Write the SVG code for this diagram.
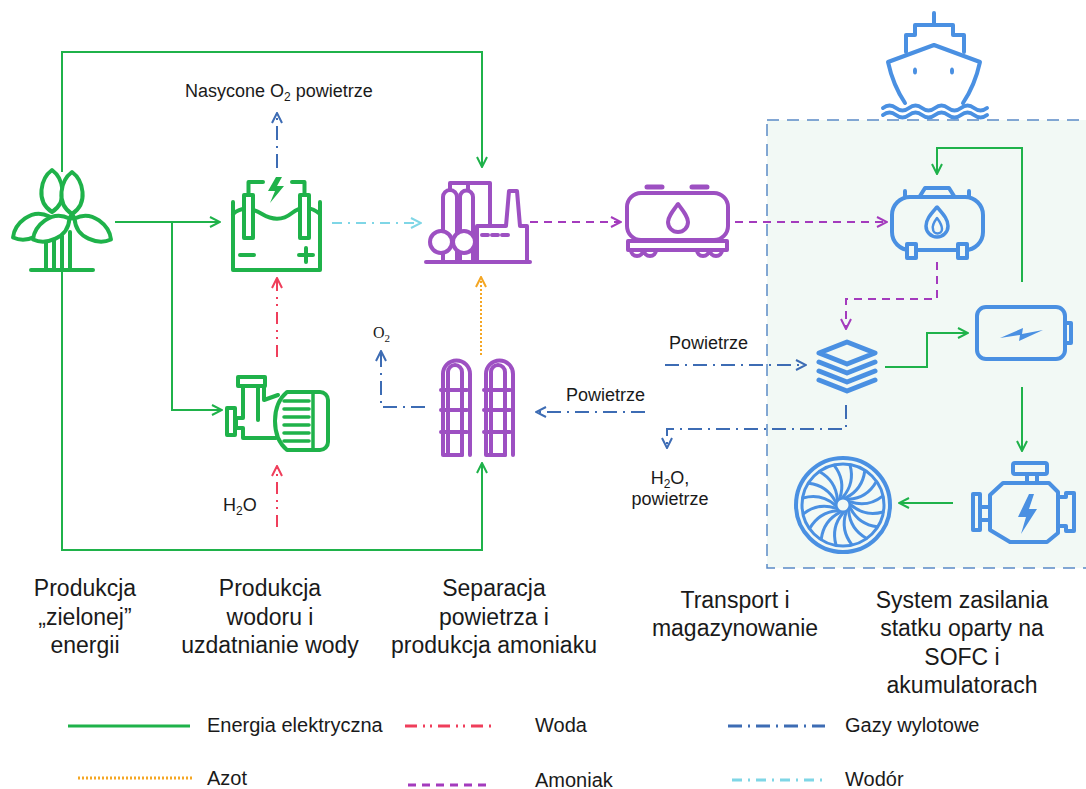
<svg xmlns="http://www.w3.org/2000/svg" width="1086" height="789" viewBox="0 0 1086 789">
  <defs>
    <style>
      .t{font-family:"Liberation Sans",Arial,sans-serif;fill:#1a1a1a}
      .lbl{font-size:23px;text-anchor:middle}
      .sm{font-size:18px}
      .leg{font-size:20px}
      .ln{fill:none;stroke-width:2}
      .g{stroke:#1fb24a}
      .gas{stroke:#3d6cb4;stroke-dasharray:14 6 2 6}
      .h2{stroke:#7fd6e6;stroke-dasharray:10 6 2 6}
      .w{stroke:#ef3e5b;stroke-dasharray:12 6 2 5 2 6}
      .nh3{stroke:#a43bbd;stroke-dasharray:8 6}
      .n2{stroke:#f4a623;stroke-dasharray:2 2}
      .ig{stroke:#1fb24a;stroke-width:4;fill:none;stroke-linejoin:round;stroke-linecap:round}
      .ip{stroke:#9d50c2;stroke-width:4;fill:none;stroke-linejoin:round;stroke-linecap:round}
      .ib{stroke:#4a90e2;stroke-width:4;fill:none;stroke-linejoin:round;stroke-linecap:round}
      .wf{fill:#fff}
    </style>
    <marker id="aG" viewBox="0 0 12 12" refX="11" refY="6" markerWidth="12" markerHeight="12" markerUnits="userSpaceOnUse" orient="auto"><path d="M1,1 L11,6 L1,11" fill="none" stroke="#1fb24a" stroke-width="2"/></marker>
    <marker id="aB" viewBox="0 0 12 12" refX="11" refY="6" markerWidth="12" markerHeight="12" markerUnits="userSpaceOnUse" orient="auto"><path d="M1,1 L11,6 L1,11" fill="none" stroke="#3d6cb4" stroke-width="2"/></marker>
    <marker id="aC" viewBox="0 0 12 12" refX="11" refY="6" markerWidth="12" markerHeight="12" markerUnits="userSpaceOnUse" orient="auto"><path d="M1,1 L11,6 L1,11" fill="none" stroke="#7fd6e6" stroke-width="2"/></marker>
    <marker id="aR" viewBox="0 0 12 12" refX="11" refY="6" markerWidth="12" markerHeight="12" markerUnits="userSpaceOnUse" orient="auto"><path d="M1,1 L11,6 L1,11" fill="none" stroke="#ef3e5b" stroke-width="2"/></marker>
    <marker id="aP" viewBox="0 0 12 12" refX="11" refY="6" markerWidth="12" markerHeight="12" markerUnits="userSpaceOnUse" orient="auto"><path d="M1,1 L11,6 L1,11" fill="none" stroke="#a43bbd" stroke-width="2"/></marker>
    <marker id="aO" viewBox="0 0 12 12" refX="11" refY="6" markerWidth="12" markerHeight="12" markerUnits="userSpaceOnUse" orient="auto"><path d="M1,1 L11,6 L1,11" fill="none" stroke="#f4a623" stroke-width="2"/></marker>
    <!-- wind turbine blade, pointing up from the hub -->
    <path id="blade" d="M0,-3 C-17,-14 -11,-37 0,-45 C11,-37 17,-14 0,-3 Z"/>
    <!-- curved fan blade of the propulsion wheel -->
    <path id="fan" d="M0,-8 Q12,-22 7,-40"/>
    <!-- separation column with looping pipe -->
    <g id="column">
      <path d="M5,95 V12 A7 7 0 0 1 19,12 V95"/>
      <path d="M0,30 V14 A13.5 13.5 0 0 1 27,14 V95"/>
      <path d="M0,95 H19 M0,30 V95"/>
      <path d="M-2,30 H24 M-2,50 H24 M-2,72 H24"/>
    </g>
  </defs>

  <!-- on-board system area -->
  <rect id="ship-area" x="767" y="120" width="330" height="448" fill="#f2f9f5" stroke="#5b8ac6" stroke-width="1.5" stroke-dasharray="12 8"/>

  <!-- connectors -->
  <g id="connectors">
    <path class="ln g" d="M62,172 V52 H482 V167" marker-end="url(#aG)"/>
    <path class="ln g" d="M115,222 H220" marker-end="url(#aG)"/>
    <path class="ln g" d="M172,222 V410 H222" marker-end="url(#aG)"/>
    <path class="ln g" d="M62,272 V550 H482 V463" marker-end="url(#aG)"/>
    <path class="ln g" d="M1022,282 V148 H937 V174" marker-end="url(#aG)"/>
    <path class="ln g" d="M885,367 H927 V333 H968" marker-end="url(#aG)"/>
    <path class="ln g" d="M1022,387 V451" marker-end="url(#aG)"/>
    <path class="ln g" d="M953,503 H899" marker-end="url(#aG)"/>

    <path class="ln gas" d="M277,168 V113" marker-end="url(#aB)"/>
    <path class="ln gas" d="M665,365 H806" marker-end="url(#aB)"/>
    <path class="ln gas" d="M645,412 H536" marker-end="url(#aB)"/>
    <path class="ln gas" d="M846,405 V429 H667 V448" marker-end="url(#aB)"/>
    <path class="ln gas" d="M425,407 H381 V351" marker-end="url(#aB)"/>

    <path class="ln h2" d="M332,223 H421" marker-end="url(#aC)"/>

    <path class="ln nh3" d="M530,222 H621" marker-end="url(#aP)"/>
    <path class="ln nh3" d="M735,222 H887" marker-end="url(#aP)"/>
    <path class="ln nh3" d="M937,262 V299 H846 V329" marker-end="url(#aP)"/>

    <path class="ln n2" d="M481,355 V277" marker-end="url(#aO)"/>

    <path class="ln w" d="M277,357 V278" marker-end="url(#aR)"/>
    <path class="ln w" d="M277,527 V466" marker-end="url(#aR)"/>
  </g>

  <!-- wind farm -->
  <g id="wind" class="ig">
    <path d="M46,270 V234 M54,270 V234 M62,270 V236 M70,270 V232"/>
    <use href="#blade" class="wf" transform="translate(52,215)"/>
    <use href="#blade" class="wf" transform="translate(52,215) rotate(240)"/>
    <use href="#blade" class="wf" transform="translate(72,217) rotate(120)"/>
    <use href="#blade" class="wf" transform="translate(72,217) rotate(240)"/>
    <use href="#blade" class="wf" transform="translate(72,217)"/>
    <path d="M31,270 H93"/>
    <circle cx="72" cy="217" r="3.5" fill="#1fb24a" stroke="none"/>
  </g>

  <!-- electrolyser -->
  <g id="electrolyser" class="ig">
    <path d="M233,202 V270 H320 V202"/>
    <path d="M233,214 C242,206 252,208 262,214 S282,221 292,213 S312,207 320,214"/>
    <rect x="244" y="195" width="9" height="43" class="wf"/>
    <rect x="300" y="195" width="9" height="43" class="wf"/>
    <path d="M248.5,195 V182 H263 M304.5,195 V182 H292"/>
    <polygon points="276,177 268,191 275,191 270,203 284,186 277,186 282,177" fill="#1fb24a" stroke="none"/>
    <path d="M240,255 H254 M299,255 H313 M306,248 V262"/>
  </g>

  <!-- ammonia synthesis plant -->
  <g id="plant" class="ip">
    <path d="M426,262 H530"/>
    <path d="M443,262 V232 M457,262 V232 M460,262 V232 M473,262 V232"/>
    <path d="M443,232 V197 A7 7 0 0 1 457,197 V232"/>
    <path d="M460,232 V197 A6.5 6.5 0 0 1 473,197 V232"/>
    <circle cx="441" cy="242" r="11" class="wf"/>
    <circle cx="464" cy="242" r="11" class="wf"/>
    <path d="M450,190 V183 H490 V226 M468,183 V190"/>
    <path d="M477,262 V226 H506 L509,191 H517 L520,226 H527 V262"/>
    <path d="M482,235 H488 M492,235 H498 M502,235 H508"/>
  </g>

  <!-- rail tank car -->
  <g id="tankcar" class="ip">
    <rect x="627" y="193" width="101" height="47" rx="14"/>
    <path d="M647,187 H662 M692,187 H707" stroke-width="5"/>
    <path d="M678,204 C672,212 668,217 668,222 A10 10 0 0 0 688,222 C688,217 684,212 678,204 Z"/>
    <rect x="628" y="241" width="99" height="9"/>
    <path d="M631,250 A6 6 0 0 0 643,250 M644,250 A6 6 0 0 0 656,250 M697,250 A6 6 0 0 0 709,250 M710,250 A6 6 0 0 0 722,250"/>
  </g>

  <!-- ship -->
  <g id="ship" class="ib">
    <path d="M934,13 V25"/>
    <path d="M906,52 V35 H915 V25 H953 V35 H964 V52"/>
    <path d="M934,45 L888,62 Q893,85 905,103 M934,45 L980,62 Q975,85 963,103"/>
    <ellipse cx="915" cy="71" rx="2" ry="3.5" fill="#4a90e2" stroke="none"/>
    <ellipse cx="952" cy="71" rx="2" ry="3.5" fill="#4a90e2" stroke="none"/>
    <path d="M883,108 q6.5,-5 13,0 t13,0 t13,0 t13,0 t13,0 t13,0 t13,0 t13,0"/>
    <path d="M883,115 q6.5,-5 13,0 t13,0 t13,0 t13,0 t13,0 t13,0 t13,0 t13,0"/>
  </g>

  <!-- ammonia storage tank -->
  <g id="storage" class="ib">
    <path d="M920,196 L925,188 H949 L954,196"/>
    <path d="M905,196 V191 M969,196 V191"/>
    <rect x="892" y="197" width="91" height="53" rx="18" fill="#f2f9f5"/>
    <rect x="907" y="244" width="9" height="14" fill="#f2f9f5"/>
    <rect x="958" y="244" width="9" height="14" fill="#f2f9f5"/>
    <path d="M937,207 C931,214 926,219 926,226 A11 11 0 0 0 948,226 C948,219 943,214 937,207 Z" stroke-width="3.5"/>
    <path d="M937,218 C934,222 932,226 933,229 A4.5 4.5 0 0 0 942,229 C942,226 940,222 937,218 Z" stroke-width="2.5"/>
  </g>

  <!-- SOFC stack -->
  <g id="sofc" class="ib">
    <polygon points="847,342 875,353 847,364 819,353" stroke-width="5"/>
    <path d="M819,362 L847,373 L875,362 M819,371 L847,382 L875,371 M819,380 L847,391 L875,380" stroke-width="5"/>
  </g>

  <!-- battery -->
  <g id="battery" class="ib">
    <rect x="977" y="307" width="88" height="52" rx="9"/>
    <path d="M1065,323 H1071 V343 H1065"/>
    <polygon points="1000,338 1023,328 1022,334 1043,330 1019,341 1020,335" fill="#4a90e2" stroke="none"/>
  </g>

  <!-- electric motor -->
  <g id="motor" class="ib">
    <rect x="1013" y="463" width="34" height="11" rx="2"/>
    <path d="M1027,474 V483 M1037,474 V483"/>
    <path d="M990,495 L1003,483 H1049 L1058,492 V533 L1047,542 H1010 L990,530 Z"/>
    <path d="M1058,497 H1066 V493 H1074 V531 H1066 V526 H1058"/>
    <rect x="973" y="494" width="7" height="36"/>
    <path d="M980,507 H990 M980,520 H990"/>
    <polygon points="1029,494 1018,517 1026,517 1021,534 1037,509 1029,509 1034,494" fill="#4a90e2" stroke="none"/>
  </g>

  <!-- propulsion fan -->
  <g id="propulsor" class="ib">
    <circle cx="843" cy="505" r="47"/>
    <circle cx="843" cy="505" r="41" stroke-width="3"/>
    <circle cx="843" cy="505" r="7" stroke-width="3"/>
    <g stroke-width="3" transform="translate(843,505)">
      <use href="#fan"/>
      <use href="#fan" transform="rotate(22.5)"/>
      <use href="#fan" transform="rotate(45)"/>
      <use href="#fan" transform="rotate(67.5)"/>
      <use href="#fan" transform="rotate(90)"/>
      <use href="#fan" transform="rotate(112.5)"/>
      <use href="#fan" transform="rotate(135)"/>
      <use href="#fan" transform="rotate(157.5)"/>
      <use href="#fan" transform="rotate(180)"/>
      <use href="#fan" transform="rotate(202.5)"/>
      <use href="#fan" transform="rotate(225)"/>
      <use href="#fan" transform="rotate(247.5)"/>
      <use href="#fan" transform="rotate(270)"/>
      <use href="#fan" transform="rotate(292.5)"/>
      <use href="#fan" transform="rotate(315)"/>
      <use href="#fan" transform="rotate(337.5)"/>
    </g>
  </g>

  <!-- water pump -->
  <g id="pump" class="ig">
    <rect x="238" y="377" width="27" height="9"/>
    <path d="M243,386 V418 H236 V428 H243 V438 H276"/>
    <path d="M258,386 V420"/>
    <path d="M264,386 V400 L278,395"/>
    <rect x="227" y="408" width="8" height="27"/>
    <path d="M287,392 H320 A8 8 0 0 1 328,400 V442 A8 8 0 0 1 320,450 H287 Q275,440 275,421 Q275,402 287,392 Z"/>
    <path d="M284,401 H309 M284,409 H309 M284,417 H309 M284,425 H309 M284,433 H309 M284,441 H309" stroke-width="3.5"/>
    <path d="M313,394 V448" stroke-width="3.5"/>
  </g>

  <!-- air separation columns -->
  <g id="separation" class="ip">
    <use href="#column" x="443" y="360"/>
    <use href="#column" x="486" y="360"/>
  </g>

  <!-- flow labels -->
  <g id="flow-labels" class="t sm">
    <text x="185" y="97">Nasycone O<tspan font-size="12" dy="4">2</tspan><tspan dy="-4"> powietrze</tspan></text>
    <text x="669" y="349">Powietrze</text>
    <text x="566" y="401">Powietrze</text>
    <text x="670" y="484" text-anchor="middle">H<tspan font-size="12" dy="4">2</tspan><tspan dy="-4">O,</tspan></text>
    <text x="670" y="505" text-anchor="middle">powietrze</text>
    <text x="223" y="511">H<tspan font-size="12" dy="4">2</tspan><tspan dy="-4">O</tspan></text>
    <text x="373" y="338" style="font-family:'Liberation Serif','Times New Roman',serif;font-size:16px">O<tspan font-size="11" dy="4">2</tspan></text>
  </g>

  <!-- stage captions -->
  <g id="captions" class="t lbl">
    <text x="85" y="596">Produkcja</text>
    <text x="85" y="625">„zielonej”</text>
    <text x="85" y="653">energii</text>
    <text x="270" y="596">Produkcja</text>
    <text x="270" y="625">wodoru i</text>
    <text x="270" y="653">uzdatnianie wody</text>
    <text x="494" y="596">Separacja</text>
    <text x="494" y="625">powietrza i</text>
    <text x="494" y="653">produkcja amoniaku</text>
    <text x="735" y="608">Transport i</text>
    <text x="735" y="636">magazynowanie</text>
    <text x="962" y="608">System zasilania</text>
    <text x="962" y="636">statku oparty na</text>
    <text x="962" y="665">SOFC i</text>
    <text x="962" y="693">akumulatorach</text>
  </g>

  <!-- legend -->
  <g id="legend">
    <path class="g" d="M68,726 H190" stroke-width="3" fill="none"/>
    <path class="w" d="M405,726 H492" stroke-width="3" fill="none" stroke="#ef4a3a"/>
    <path class="gas" d="M728,726 H825" stroke-width="3" fill="none"/>
    <path class="n2" d="M78,778 H192" stroke-width="3" fill="none" stroke="#f6c02a"/>
    <path class="nh3" d="M408,785 H492" stroke-width="3" fill="none"/>
    <path class="h2" d="M732,780 H825" stroke-width="3" fill="none"/>
    <g class="t leg">
      <text x="207" y="732">Energia elektryczna</text>
      <text x="535" y="732">Woda</text>
      <text x="845" y="732">Gazy wylotowe</text>
      <text x="207" y="785">Azot</text>
      <text x="535" y="787">Amoniak</text>
      <text x="845" y="786">Wodór</text>
    </g>
  </g>
</svg>
